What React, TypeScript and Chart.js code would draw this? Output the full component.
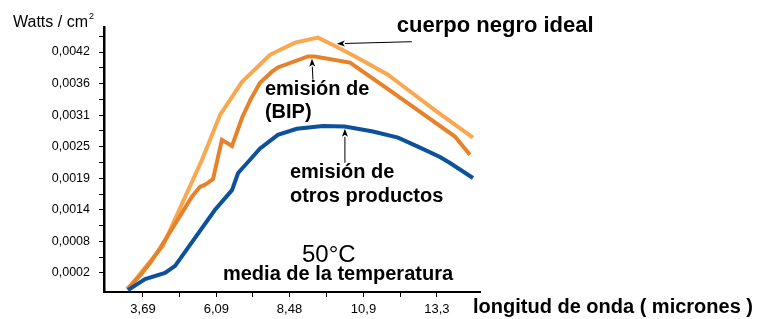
import React, { useEffect, useRef } from 'react';
import { Chart, registerables } from 'chart.js';

Chart.register(...registerables);

// ---- series data (wavelength in microns, power in W/cm²) ----
const idealX = [3.2, 3.82, 4.34, 5.62, 6.21, 6.93, 7.84, 8.66, 9.41, 9.97, 10.69, 11.7, 12.2, 13.3, 14.48];
const idealY = [-0.00009, 0.00034, 0.00069, 0.00225, 0.00306, 0.00366, 0.00415, 0.00437, 0.00446, 0.00431, 0.0041, 0.00379, 0.00358, 0.00312, 0.00265];

const bipX = [3.17, 3.59, 3.92, 4.25, 5.29, 5.55, 5.72, 5.81, 5.98, 6.27, 6.6, 6.93, 7.19, 7.51, 7.9, 8.1, 9.08, 9.31, 10.46, 11.83, 13.89, 14.38];
const bipY = [-0.00009, 0.00015, 0.00038, 0.00065, 0.00158, 0.00176, 0.0018, 0.00183, 0.0019, 0.00261, 0.0025, 0.00301, 0.00332, 0.00364, 0.00384, 0.00392, 0.00412, 0.00412, 0.00401, 0.00348, 0.00267, 0.00234];

const otherX = [3.2, 3.76, 4.41, 4.74, 6.04, 6.6, 6.8, 7.19, 7.51, 8.1, 8.72, 9.57, 10.29, 11.21, 12.03, 12.75, 13.4, 13.73, 14.48];
const otherY = [-0.00011, 0.00009, 0.0002, 0.00033, 0.00134, 0.0017, 0.00201, 0.00225, 0.00245, 0.0027, 0.00281, 0.00286, 0.00285, 0.00276, 0.00265, 0.00247, 0.0023, 0.00219, 0.00192];

// ---- axis ticks ----
const xTickLabels = ['3,69', '6,09', '8,48', '10,9', '13,3'];
const xTickValues = [3.69, 6.09, 8.48, 10.9, 13.3];
const yTickLabels = ['0,0002', '0,0008', '0,0014', '0,0019', '0,0025', '0,0031', '0,0036', '0,0042'];
const yFirst = 0.0002;
const yLast = 0.0042;

const X_MIN = 2.415;
const X_MAX = 14.71;
const Y_MIN = -0.000144;
const Y_MAX = 0.004653;

// ---- annotations (data coordinates) ----
const labels = [
  { text: 'cuerpo negro ideal', x: 11.99, y: 0.00457, size: 22, bold: true },
  { text: 'emisión de', x: 7.678, y: 0.003427, size: 20, bold: true },
  { text: '(BIP)', x: 7.678, y: 0.00301, size: 20, bold: true },
  { text: 'emisión de', x: 8.495, y: 0.001922, size: 20, bold: true },
  { text: 'otros productos', x: 8.495, y: 0.001487, size: 20, bold: true },
  { text: '50°C', x: 8.888, y: 0.000399, size: 24, bold: false },
  { text: 'media de la temperatura', x: 6.305, y: 0.000073, size: 20, bold: true },
];
const arrows = [
  { x1: 12.48, y1: 0.004387, x2: 10.03, y2: 0.004351 },
  { x1: 9.247, y1: 0.003699, x2: 9.214, y2: 0.004079 },
  { x1: 10.293, y1: 0.002194, x2: 10.293, y2: 0.00281 },
];

const FONT = "'Liberation Sans', Arial, Helvetica, sans-serif";
const LIGHT = '#F9A850';
const DARK = '#E8822A';
const BLUE = '#0B519B';

function buildYTicks() {
  const step = (yLast - yFirst) / (yTickLabels.length - 1);
  const vals: number[] = [];
  const texts: string[] = [];
  for (let i = 0; i < yTickLabels.length; i++) {
    vals.push(yFirst + i * step);
    texts.push(yTickLabels[i]);
    vals.push(yFirst + (i + 0.5) * step);
    texts.push('');
  }
  return { vals, texts };
}
function buildXTicks() {
  const vals: number[] = [];
  const texts: string[] = [];
  for (let i = 0; i < xTickValues.length; i++) {
    vals.push(xTickValues[i]);
    texts.push(xTickLabels[i]);
    if (i < xTickValues.length - 1) {
      vals.push((xTickValues[i] + xTickValues[i + 1]) / 2);
      texts.push('');
    }
  }
  return { vals, texts };
}

const annotPlugin = {
  id: 'annot',
  afterDraw(chart: any) {
    const { ctx, scales, chartArea } = chart;
    const sx = scales.x;
    const sy = scales.y;
    ctx.save();
    ctx.fillStyle = '#000';
    ctx.textBaseline = 'alphabetic';
    ctx.textAlign = 'left';
    for (const l of labels) {
      ctx.font = `${l.bold ? 'bold ' : ''}${l.size}px ${FONT}`;
      ctx.fillText(l.text, sx.getPixelForValue(l.x), sy.getPixelForValue(l.y));
    }
    // axis titles
    ctx.font = `bold 20px ${FONT}`;
    ctx.fillText('longitud de onda ( micrones )', chartArea.right - 7, chartArea.bottom + 21);
    ctx.font = `16px ${FONT}`;
    const t = 'Watts / cm';
    ctx.fillText(t, 13, chartArea.top);
    const w = ctx.measureText(t).width;
    ctx.font = `9px ${FONT}`;
    ctx.fillText('2', 13 + w + 1, chartArea.top - 8);
    // arrows
    ctx.strokeStyle = '#000';
    ctx.lineWidth = 1;
    for (const a of arrows) {
      const x1 = sx.getPixelForValue(a.x1);
      const y1 = sy.getPixelForValue(a.y1);
      const x2 = sx.getPixelForValue(a.x2);
      const y2 = sy.getPixelForValue(a.y2);
      const ang = Math.atan2(y2 - y1, x2 - x1);
      const len = 8;
      const hw = 3;
      const bx = x2 - len * Math.cos(ang);
      const by = y2 - len * Math.sin(ang);
      ctx.beginPath();
      ctx.moveTo(x1, y1);
      ctx.lineTo(bx, by);
      ctx.stroke();
      ctx.beginPath();
      ctx.moveTo(x2, y2);
      ctx.lineTo(bx + hw * Math.sin(ang), by - hw * Math.cos(ang));
      ctx.lineTo(x2 - (len - 2) * Math.cos(ang), y2 - (len - 2) * Math.sin(ang));
      ctx.lineTo(bx - hw * Math.sin(ang), by + hw * Math.cos(ang));
      ctx.closePath();
      ctx.fill();
    }
    ctx.restore();
  },
};

export default function App() {
  const ref = useRef<HTMLCanvasElement>(null);
  useEffect(() => {
    const canvas = ref.current!;
    const yt = buildYTicks();
    const xt = buildXTicks();
    Chart.defaults.font.family = FONT;
    const mk = (xs: number[], ys: number[]) => xs.map((x, i) => ({ x, y: ys[i] }));
    const chart = new Chart(canvas, {
      type: 'line',
      data: {
        datasets: [
          { label: 'emisión de otros productos', data: mk(otherX, otherY), borderColor: BLUE, borderWidth: 4, pointRadius: 0, tension: 0, fill: false },
          { label: 'emisión de (BIP)', data: mk(bipX, bipY), borderColor: DARK, borderWidth: 4, pointRadius: 0, tension: 0, fill: false },
          { label: 'cuerpo negro ideal', data: mk(idealX, idealY), borderColor: LIGHT, borderWidth: 4, pointRadius: 0, tension: 0, fill: false },
        ],
      },
      options: {
        responsive: false,
        animation: false,
        layout: { padding: { left: 0, top: 27, right: 283, bottom: 0 } },
        plugins: { legend: { display: false }, tooltip: { enabled: false } },
        scales: {
          x: {
            type: 'linear',
            min: X_MIN,
            max: X_MAX,
            afterBuildTicks: (a: any) => {
              a.ticks = xt.vals.map((v) => ({ value: v }));
            },
            afterFit: (a: any) => {
              a.height = 27;
            },
            ticks: {
              autoSkip: false,
              maxRotation: 0,
              padding: 5,
              color: '#000',
              font: { size: 13 },
              callback: (_v: any, i: number) => xt.texts[i],
            },
            grid: { drawOnChartArea: false, tickLength: 5, color: '#000' },
            border: { color: '#000', width: 2 },
          },
          y: {
            type: 'linear',
            min: Y_MIN,
            max: Y_MAX,
            afterBuildTicks: (a: any) => {
              a.ticks = yt.vals.map((v) => ({ value: v }));
            },
            afterFit: (a: any) => {
              a.width = 104;
            },
            ticks: {
              autoSkip: false,
              padding: 9,
              color: '#000',
              font: { size: 12.5 },
              callback: (_v: any, i: number) => yt.texts[i],
            },
            grid: { drawOnChartArea: false, tickLength: 5, color: '#000' },
            border: { color: '#000', width: 2.5 },
          },
        },
      },
      plugins: [annotPlugin],
    } as any);
    return () => chart.destroy();
  }, []);
  return (
    <div style={{ position: 'fixed', left: 0, top: 0, width: 763, height: 319, background: '#fff' }}>
      <canvas ref={ref} width={763} height={319} style={{ display: 'block', width: 763, height: 319 }} />
    </div>
  );
}
